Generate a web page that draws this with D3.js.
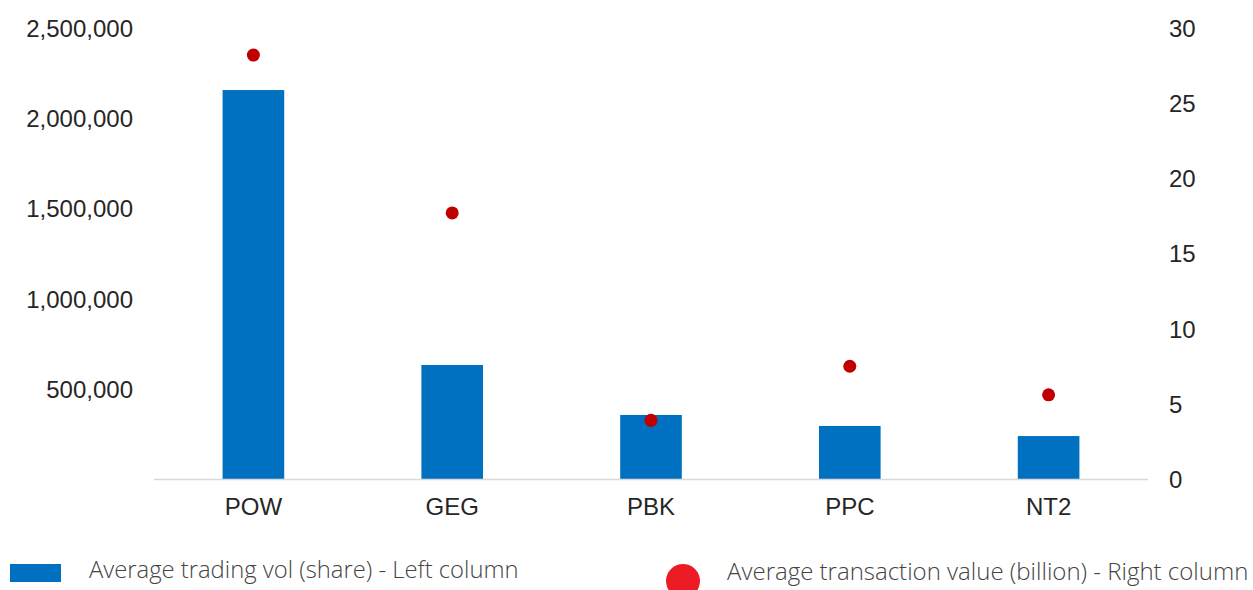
<!DOCTYPE html>
<html><head><meta charset="utf-8">
<script src="https://cdn.jsdelivr.net/npm/d3@7/dist/d3.min.js"></script>
<style>body{margin:0;background:#fff}svg{display:block}</style>
</head><body>
<svg id="c" width="1253" height="590"></svg>
<script>
const categories = ["POW","GEG","PBK","PPC","NT2"];
const volumes = [2156000, 632000, 355000, 294000, 238000];
const values = [28.2, 17.7, 3.9, 7.5, 5.6];
const leftTicks = [500000, 1000000, 1500000, 2000000, 2500000];
const rightTicks = [0, 5, 10, 15, 20, 25, 30];
const legendLabels = ["Average trading vol (share) - Left column", "Average transaction value (billion) - Right column"];

const svg = d3.select("#c");
const x0 = 154, x1 = 1148, yTop = 28, yBot = 479;
const x = d3.scaleBand().domain(categories).range([x0, x1]).paddingInner(0.69).paddingOuter(0.345);
const yL = d3.scaleLinear().domain([0, 2500000]).range([yBot, yTop]);
const yR = d3.scaleLinear().domain([0, 30]).range([yBot, yTop]);
const font = "'Liberation Sans', Arial, sans-serif";
const fs = 24;

// bars
svg.selectAll("rect.bar").data(categories).enter().append("rect")
  .attr("x", d => x(d)).attr("width", x.bandwidth())
  .attr("y", (d,i) => yL(volumes[i])).attr("height", (d,i) => yBot - yL(volumes[i]))
  .attr("fill", "#0070c0");

// baseline
svg.append("line").attr("x1", x0).attr("x2", x1).attr("y1", yBot + 0.5).attr("y2", yBot + 0.5)
  .attr("stroke", "#d9d9d9").attr("stroke-width", 1.5);

// dots
svg.selectAll("circle.dot").data(categories).enter().append("circle")
  .attr("cx", d => x(d) + x.bandwidth()/2).attr("cy", (d,i) => yR(values[i])).attr("r", 6.5)
  .attr("fill", "#c00000");

// left axis
const fmt = d3.format(",");
const gl = svg.append("g").attr("transform", `translate(133,0)`)
  .call(d3.axisLeft(yL).tickValues(leftTicks).tickFormat(fmt).tickSize(0).tickPadding(0));
gl.select(".domain").remove();
gl.selectAll("text").attr("font-family", font).attr("font-size", fs).attr("fill", "#262626").attr("dy", "0.35em");

// right axis
const gr = svg.append("g").attr("transform", `translate(1169,0)`)
  .call(d3.axisRight(yR).tickValues(rightTicks).tickSize(0).tickPadding(0));
gr.select(".domain").remove();
gr.selectAll("text").attr("font-family", font).attr("font-size", fs).attr("fill", "#262626").attr("dy", "0.35em");

// x axis
const gx = svg.append("g").attr("transform", `translate(0,${yBot})`)
  .call(d3.axisBottom(x).tickSize(0).tickPadding(19));
gx.select(".domain").remove();
gx.selectAll("text").attr("font-family", font).attr("font-size", fs).attr("fill", "#262626").attr("dy", "0.71em");

// legend
const lf = "'Open Sans', 'Noto Sans', sans-serif";
svg.append("rect").attr("x", 10).attr("y", 564).attr("width", 51).attr("height", 18).attr("fill", "#0070c0");
svg.append("text").attr("x", 89).attr("y", 578).text(legendLabels[0])
  .attr("font-family", lf).attr("font-weight", 300).attr("font-size", 23.8).attr("fill", "#444");
svg.append("circle").attr("cx", 683).attr("cy", 581).attr("r", 17).attr("fill", "#ed1c24");
svg.append("text").attr("x", 727).attr("y", 580).text(legendLabels[1])
  .attr("font-family", lf).attr("font-weight", 300).attr("font-size", 24).attr("fill", "#444");
</script>
</body></html>
